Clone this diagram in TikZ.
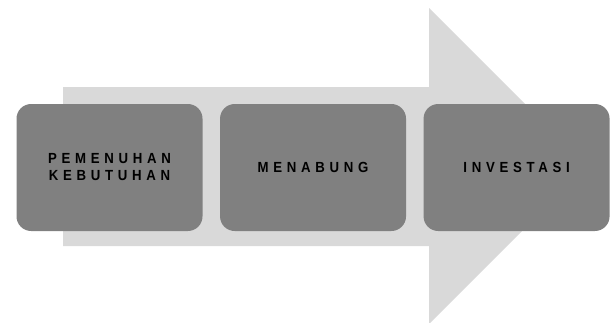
\documentclass[tikz,border=0pt]{standalone}
\usepackage{fontspec}
\usetikzlibrary{positioning}
\newfontfamily\stepfont[LetterSpace=32, FakeStretch=0.9]{Liberation Sans Bold}
\definecolor{arrowgray}{gray}{0.85}
\definecolor{boxgray}{gray}{0.5}

\begin{document}
\begin{tikzpicture}[x=0.75pt, y=-0.75pt,
    stage/.style={rectangle, rounded corners=11pt, fill=boxgray,
      minimum width=139.5pt, minimum height=95.25pt, align=center,
      font=\stepfont\fontsize{11}{12.75}\selectfont}]
  \useasboundingbox (0,0) rectangle (613,322);
  % big arrow behind the stages
  \fill[arrowgray] (63,87) -- (429,87) -- (429,8) -- (587,166)
    -- (429,324) -- (429,246) -- (63,246) -- cycle;
  \node[stage] (kebutuhan) at (109.5,167.5) {PEMENUHAN\\KEBUTUHAN};
  \node[stage, right=12.75pt of kebutuhan] (menabung) {MENABUNG};
  \node[stage, right=12.75pt of menabung] (investasi) {INVESTASI};
\end{tikzpicture}
\end{document}
